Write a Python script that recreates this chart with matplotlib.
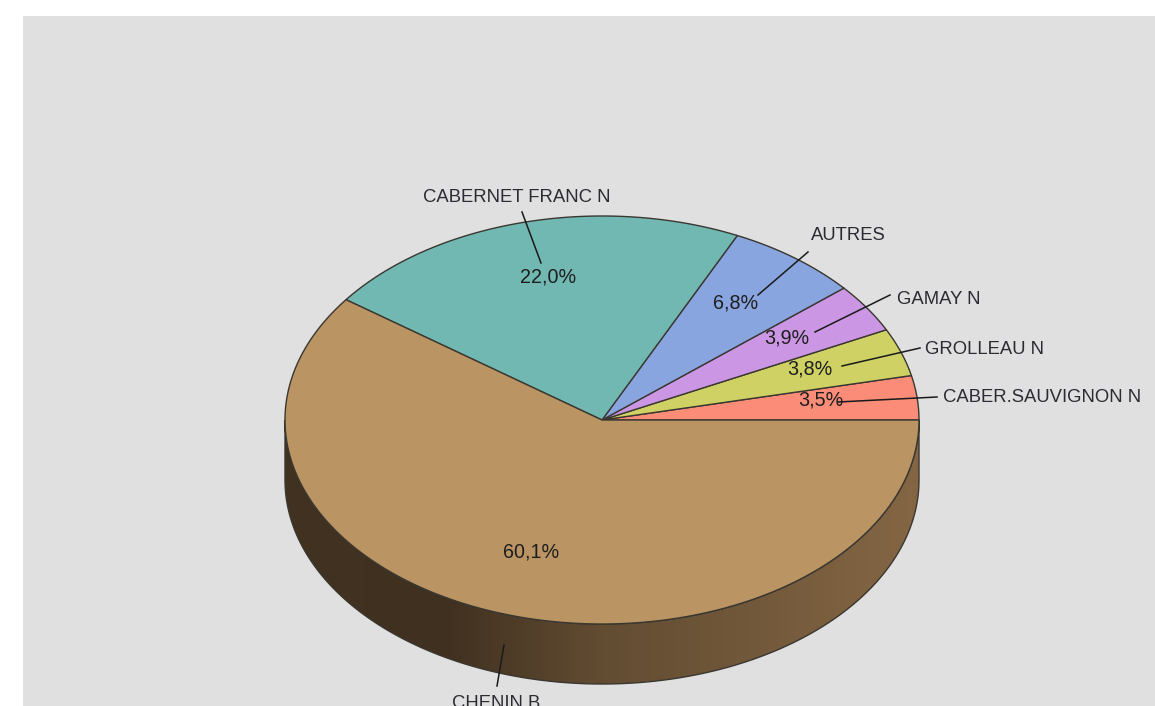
import numpy as np
import matplotlib
matplotlib.use('Agg')
import matplotlib.pyplot as plt
from matplotlib.patches import Polygon

# slices, counter-clockwise from the 3 o'clock position
names = ["CABER.SAUVIGNON N", "GROLLEAU N", "GAMAY N", "AUTRES", "CABERNET FRANC N", "CHENIN B"]
shares = [3.5, 3.8, 3.9, 6.8, 22.0, 60.1]
pct_labels = ["3,5%", "3,8%", "3,9%", "6,8%", "22,0%", "60,1%"]

colors = ['#FB8C78', '#CFD164', '#CB96E3', '#88A5E0', '#71B8B2', '#BA9462']
EDGE = '#3a3730'
FONT = 'Liberation Sans'
NAME_FS = 13.3
PCT_FS = 14.2

# pie geometry in pixels
CX, CY, RX, RY, DEPTH = 602, 420, 317, 204, 60

# label anchors: name xy, percent xy, leader start, leader end
name_pos = [(1042, 398), (984.5, 349), (939, 300), (848, 235), (517, 197), (496, 704)]
pct_pos = [(821, 400), (810, 369), (787, 338), (736, 303), (548, 277), (531, 552)]
leaders = [((937, 397), (838, 402)), ((920, 348), (842, 366)), ((890, 295), (815, 332)),
           ((808, 252), (758, 295)), ((522, 212), (541, 263)), ((497, 686), (504, 645))]


def ellipse_pts(a0, a1, dy=0):
    t = np.radians(np.linspace(a0, a1, 300))
    return np.column_stack([CX + RX * np.cos(t), CY + dy - RY * np.sin(t)])


fig = plt.figure(figsize=(11.55, 7.06), dpi=100, facecolor='white')
ax = fig.add_axes([0, 0, 1, 1])
ax.set_xlim(0, 1155)
ax.set_ylim(706, 0)
ax.axis('off')

ax.add_patch(Polygon([(23, 16), (1155, 16), (1155, 706), (23, 706)], fc='#E0E0E0', ec='none', zorder=0))

# rim of the disc: brown shaded left to right, clipped to the lower half outline
rim = np.vstack([ellipse_pts(180, 360), ellipse_pts(360, 180, DEPTH)])
rim_patch = Polygon(rim, fc='none', ec='none')
ax.add_patch(rim_patch)
stops_x = [0.0, 0.25, 0.5, 1.0]
stops_rgb = np.array([[66, 50, 33], [64, 48, 32], [98, 76, 50], [132, 102, 68]]) / 255
u = np.linspace(0, 1, 256)
grad = np.stack([np.interp(u, stops_x, stops_rgb[:, i]) for i in range(3)], axis=-1)[None, :, :]
im = ax.imshow(grad, extent=[CX - RX, CX + RX, CY + RY + DEPTH, CY], aspect='auto', zorder=1)
im.set_clip_path(rim_patch)
ax.set_xlim(0, 1155)
ax.set_ylim(706, 0)
ax.add_patch(Polygon(rim, fc='none', ec=EDGE, lw=1.0, zorder=2))

# top face
fracs = np.array(shares) / sum(shares)
edges = np.concatenate([[0], np.cumsum(fracs) * 360])
for i in range(len(shares)):
    pts = np.vstack([[CX, CY], ellipse_pts(edges[i], edges[i + 1])])
    ax.add_patch(Polygon(pts, fc=colors[i], ec=EDGE, lw=1.0, joinstyle='round', zorder=3))

for i, name in enumerate(names):
    (x0, y0), (x1, y1) = leaders[i]
    ax.plot([x0, x1], [y0, y1], color='#1a1a1a', lw=1.1, zorder=4)
    ax.text(*name_pos[i], name, ha='center', va='center', family=FONT, fontsize=NAME_FS, color='#2b2b33', zorder=5)
    ax.text(*pct_pos[i], pct_labels[i], ha='center', va='center', family=FONT, fontsize=PCT_FS, color='#1e1e1e', zorder=5)

fig.savefig('out.png', dpi=100, facecolor='white')
